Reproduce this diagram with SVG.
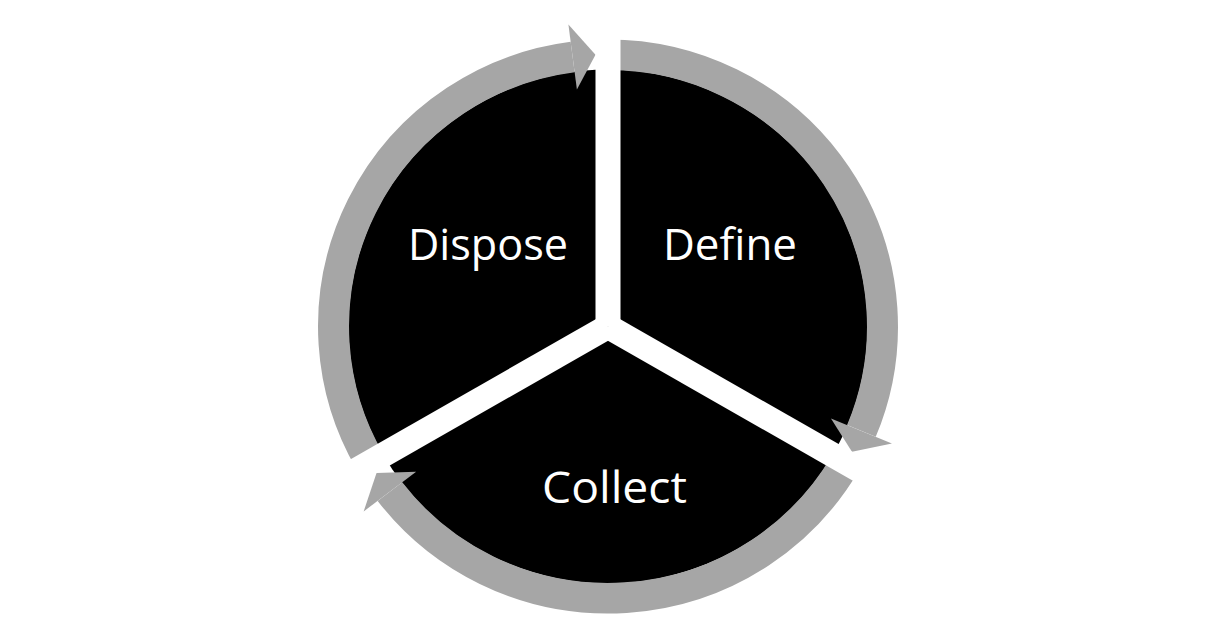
<svg xmlns="http://www.w3.org/2000/svg" width="1210" height="625" viewBox="0 0 1210 625">
  <style>
    .ring { fill: none; stroke: #A6A6A6; stroke-width: 31; }
    .head { fill: #A6A6A6; }
    .gap { fill: #FFFFFF; }
    .label { fill: #FFFFFF; font-family: "Open Sans", "Noto Sans", "Liberation Sans", sans-serif; font-size: 44px; text-anchor: middle; }
  </style>
  <defs>
    <g id="arrowSeg">
      <path class="ring" d="M -237.7 137.25 A 274.5 274.5 0 0 1 -35.36 -272.2"/>
      <polygon class="head" points="-31.1,-239.5 -39.6,-305 -12.5,-274.5"/>
    </g>
  </defs>
  <rect width="1210" height="625" fill="#FFFFFF"/>
  <g transform="translate(608,326.5) scale(1,0.99)">
    <g id="disc">
      <circle cx="0" cy="0" r="259.5" fill="#000000"/>
    </g>
    <g id="connectors">
      <use href="#arrowSeg"/>
      <use href="#arrowSeg" transform="rotate(120)"/>
      <use href="#arrowSeg" transform="rotate(240)"/>
    </g>
    <g id="dividers">
      <rect class="gap" x="-12.5" y="-335" width="25" height="335"/>
      <rect class="gap" x="-12.5" y="-335" width="25" height="335" transform="rotate(120)"/>
      <rect class="gap" x="-12.5" y="-335" width="25" height="335" transform="rotate(240)"/>
    </g>
  </g>
  <g id="node-dispose">
    <text class="label" x="488" y="260" textLength="160" lengthAdjust="spacingAndGlyphs">Dispose</text>
  </g>
  <g id="node-define">
    <text class="label" x="730" y="260" textLength="134" lengthAdjust="spacingAndGlyphs">Define</text>
  </g>
  <g id="node-collect">
    <text class="label" x="614.5" y="503" textLength="145" lengthAdjust="spacingAndGlyphs">Collect</text>
  </g>
</svg>
